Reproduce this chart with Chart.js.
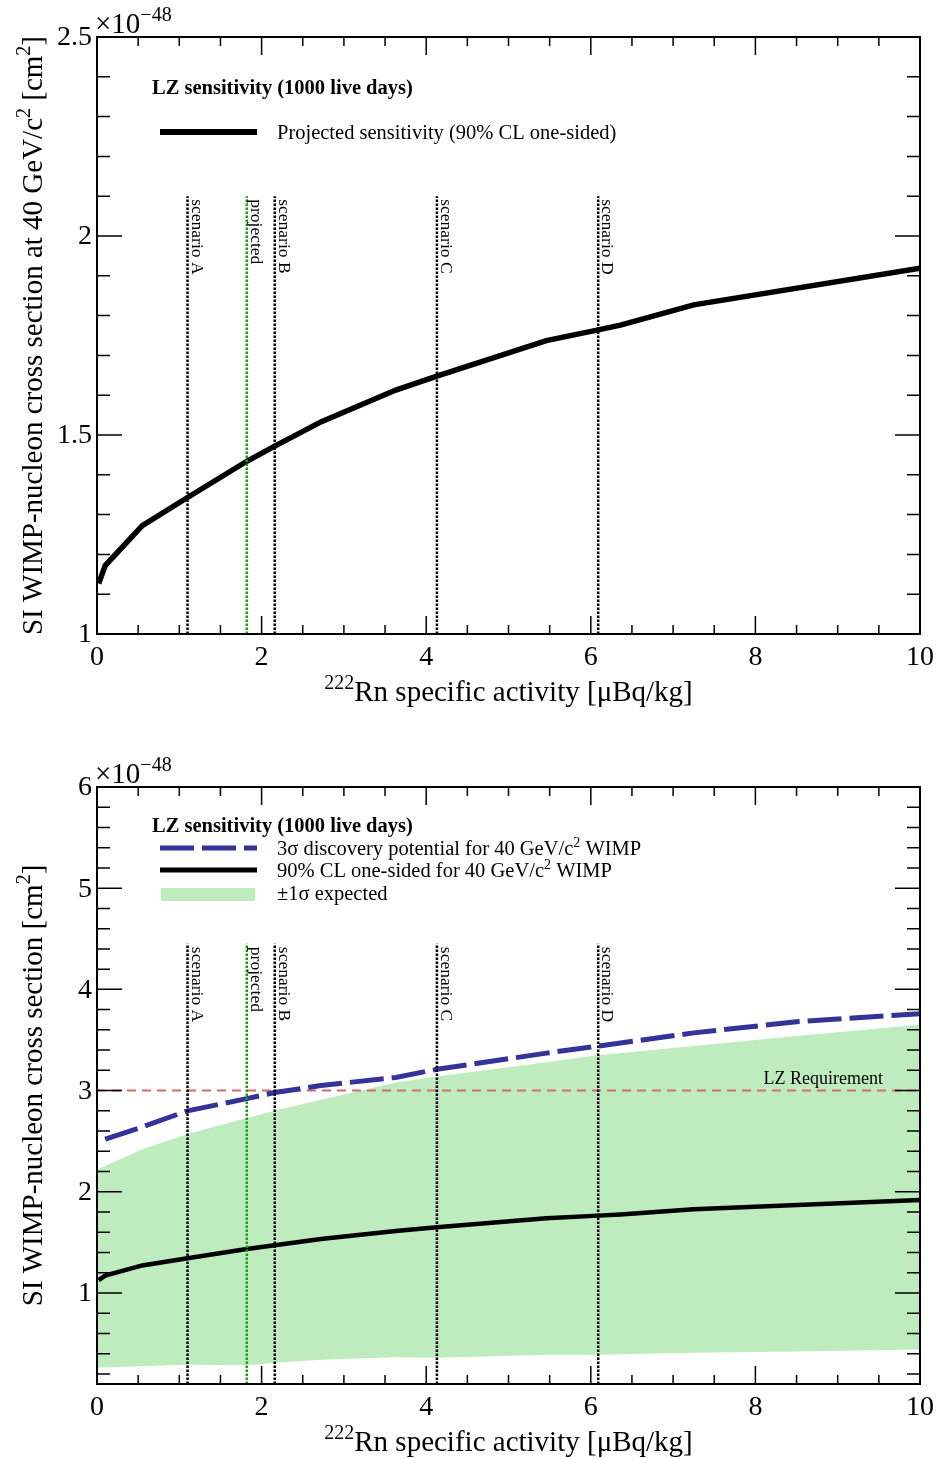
<!DOCTYPE html>
<html>
<head>
<meta charset="utf-8">
<title>LZ sensitivity vs Rn-222 activity</title>
<script src="https://cdn.jsdelivr.net/npm/chart.js@4.4.1/dist/chart.umd.min.js"></script>
<style>
  html, body { margin: 0; padding: 0; background: #fff; }
  #wrap { position: relative; width: 936px; height: 1459px; }
  canvas { position: absolute; left: 0; }
</style>
</head>
<body>
<div id="wrap">
  <canvas id="topChart" width="936" height="730" style="top:0"></canvas>
  <canvas id="bottomChart" width="936" height="729" style="top:730px"></canvas>
</div>
<script>
// Rn-222 specific activity [uBq/kg] and the 90% CL one-sided limit [x1e-48 cm2]
var rnActivity = [0.02, 0.1, 0.55, 1.1, 1.82, 2.16, 2.72, 3.63, 4.13, 5.46, 6.09, 6.36, 7.25, 10];
var limit90 = [1.127, 1.172, 1.272, 1.343, 1.434, 1.472, 1.533, 1.613, 1.648, 1.737, 1.764, 1.776, 1.827, 1.919];

// +-1 sigma expected band
var bandActivity = [0, 0.55, 1.1, 1.82, 2.16, 2.72, 3.63, 4.13, 5.46, 6.09, 7.25, 8.5, 10];
var bandUpper = [2.22, 2.42, 2.57, 2.73, 2.80, 2.91, 3.08, 3.14, 3.28, 3.35, 3.44, 3.54, 3.65];
var bandLower = [0.26, 0.275, 0.29, 0.285, 0.31, 0.34, 0.365, 0.36, 0.39, 0.39, 0.41, 0.42, 0.44];

// 3 sigma discovery potential
var discActivity = [0.1, 0.55, 1.1, 1.82, 2.16, 2.72, 3.63, 4.13, 5.46, 6.09, 7.25, 8.5, 10];
var discovery3sigma = [2.52, 2.64, 2.80, 2.92, 2.98, 3.05, 3.13, 3.21, 3.37, 3.44, 3.57, 3.68, 3.76];

// background scenarios
var scenarioNames = ['scenario A', 'projected', 'scenario B', 'scenario C', 'scenario D'];
var scenarioActivity = [1.1, 1.82, 2.16, 4.13, 6.09];
var scenarioColors = ['#000000', '#1a9e1a', '#000000', '#000000', '#000000'];

var lzRequirement = 3;

// axis tick labels
var xTickValues = [0, 2, 4, 6, 8, 10];
var topYTicks = [1, 1.5, 2, 2.5];
var bottomYTicks = [1, 2, 3, 4, 5, 6];

var SERIF = '"Liberation Serif", "Times New Roman", serif';

function pts(xs, ys) {
  return xs.map(function (x, i) { return { x: x, y: ys[i] }; });
}

function scenarioSets(yFrom, yTo) {
  return scenarioActivity.map(function (x, i) {
    return {
      label: scenarioNames[i],
      data: [{ x: x, y: yFrom }, { x: x, y: yTo }],
      borderColor: scenarioColors[i],
      borderWidth: 2.5,
      borderDash: [2.5, 1.5],
      fill: false,
      order: 1
    };
  });
}

// text with superscript pieces: parts = [[text, isSup], ...]
function richText(ctx, parts, x, y, align, size, supSize) {
  var big = size + 'px ' + SERIF;
  var small = (supSize || Math.round(size * 0.68)) + 'px ' + SERIF;
  var w = 0;
  parts.forEach(function (p) {
    ctx.font = p[1] ? small : big;
    w += ctx.measureText(p[0]).width;
  });
  var cx = align === 'center' ? x - w / 2 : (align === 'right' ? x - w : x);
  ctx.textAlign = 'left';
  ctx.textBaseline = 'alphabetic';
  parts.forEach(function (p) {
    ctx.font = p[1] ? small : big;
    ctx.fillText(p[0], cx, p[1] ? y - size * 0.4 : y);
    cx += ctx.measureText(p[0]).width;
  });
}

// ROOT-like frame: inward ticks on all sides, labels, titles, legend, annotations
function rootFrame(o) {
  return {
    id: 'rootFrame',
    afterDraw: function (chart) {
      var ctx = chart.ctx, a = chart.chartArea;
      var xs = chart.scales.x, ys = chart.scales.y;
      var i, v, p, len;
      ctx.save();
      ctx.strokeStyle = '#000';
      ctx.fillStyle = '#000';

      // ticks
      ctx.lineWidth = 1.5;
      ctx.beginPath();
      for (i = 0; i <= 20; i++) {
        p = xs.getPixelForValue(i * 0.5);
        len = i % 4 === 0 ? 18 : 9;
        ctx.moveTo(p, a.bottom); ctx.lineTo(p, a.bottom - len);
        ctx.moveTo(p, a.top); ctx.lineTo(p, a.top + len);
      }
      for (i = 0; ; i++) {
        v = o.yMinorFrom + i * o.yMinor;
        if (v > ys.max + 1e-9) break;
        p = ys.getPixelForValue(v);
        len = Math.abs(v / o.yMajor - Math.round(v / o.yMajor)) < 1e-6 ? 25 : 13;
        ctx.moveTo(a.left, p); ctx.lineTo(a.left + len, p);
        ctx.moveTo(a.right, p); ctx.lineTo(a.right - len, p);
      }
      ctx.stroke();

      // frame
      ctx.lineWidth = 2;
      ctx.strokeRect(a.left, a.top, a.right - a.left, a.bottom - a.top);

      // tick labels
      ctx.font = '28px ' + SERIF;
      ctx.textAlign = 'center';
      ctx.textBaseline = 'alphabetic';
      xTickValues.forEach(function (t) {
        ctx.fillText(String(t), xs.getPixelForValue(t), a.bottom + 31);
      });
      ctx.textAlign = 'right';
      ctx.textBaseline = 'middle';
      o.yTicks.forEach(function (t) {
        ctx.fillText(String(t), a.left - 5, ys.getPixelForValue(t) + 1);
      });

      // exponent
      richText(ctx, [['\u00d710', false], ['\u221248', true]], a.left - 2, a.top - 4, 'left', 29, 20);

      // axis titles
      richText(ctx, [['222', true], ['Rn specific activity [\u03bcBq/kg]', false]],
        (a.left + a.right) / 2, a.bottom + 67, 'center', 29, 20);
      ctx.save();
      ctx.translate(42, (a.top + a.bottom) / 2);
      ctx.rotate(-Math.PI / 2);
      richText(ctx, o.yTitle, 0, 0, 'center', 29, 20);
      ctx.restore();

      // scenario labels, reading downwards along each line
      ctx.font = '17.5px ' + SERIF;
      scenarioActivity.forEach(function (x, k) {
        ctx.save();
        ctx.translate(xs.getPixelForValue(x) + 4, ys.getPixelForValue(o.scenarioTop) + 3);
        ctx.rotate(Math.PI / 2);
        ctx.textAlign = 'left';
        ctx.textBaseline = 'alphabetic';
        ctx.fillText(scenarioNames[k], 0, 0);
        ctx.restore();
      });

      if (o.requirementLabel) {
        ctx.font = '18px ' + SERIF;
        ctx.textAlign = 'right';
        ctx.textBaseline = 'alphabetic';
        ctx.fillText('LZ Requirement', a.right - 37, ys.getPixelForValue(lzRequirement) - 7);
      }

      // legend
      ctx.font = 'bold 20.5px ' + SERIF;
      ctx.textAlign = 'left';
      ctx.textBaseline = 'alphabetic';
      ctx.fillText('LZ sensitivity (1000 live days)', 152, o.legendTitleY);
      o.legend.forEach(function (e) {
        if (e.type === 'box') {
          ctx.fillStyle = e.color;
          ctx.fillRect(161, e.y - 5, 94, 13);
          ctx.fillStyle = '#000';
        } else {
          ctx.save();
          ctx.strokeStyle = e.color;
          ctx.lineWidth = e.width;
          ctx.setLineDash(e.dash || []);
          ctx.beginPath();
          ctx.moveTo(160, e.y); ctx.lineTo(257, e.y);
          ctx.stroke();
          ctx.restore();
        }
        richText(ctx, e.text, 277, e.y + 7, 'left', 20.5, 14);
      });

      ctx.restore();
    }
  };
}

function baseOptions(yMin, yMax, padTop, padBottom) {
  return {
    responsive: false,
    animation: false,
    layout: { padding: { left: 97, right: 16, top: padTop, bottom: padBottom } },
    elements: { point: { radius: 0 }, line: { tension: 0 } },
    plugins: { legend: { display: false }, tooltip: { enabled: false } },
    scales: {
      x: { type: 'linear', min: 0, max: 10, display: false },
      y: { type: 'linear', min: yMin, max: yMax, display: false }
    }
  };
}

// upper panel: projected sensitivity
var topSets = scenarioSets(1, 2.1);
topSets.push({
  label: 'Projected sensitivity (90% CL one-sided)',
  data: pts(rnActivity, limit90),
  borderColor: '#000', borderWidth: 5.5, fill: false, order: 2
});

new Chart(document.getElementById('topChart'), {
  type: 'line',
  data: { datasets: topSets },
  options: baseOptions(1, 2.5, 37, 96),
  plugins: [rootFrame({
    yTicks: topYTicks, yMinorFrom: 1, yMinor: 0.1, yMajor: 0.5,
    yTitle: [['SI WIMP-nucleon cross section at 40 GeV/c', false], ['2', true], [' [cm', false], ['2', true], [']', false]],
    scenarioTop: 2.1,
    legendTitleY: 94,
    legend: [
      { type: 'line', color: '#000', width: 6, y: 132, text: [['Projected sensitivity (90% CL one-sided)', false]] }
    ]
  })]
});

// lower panel: discovery potential, limit and band
var bandGreen = 'rgb(190, 236, 190)';
var bottomSets = scenarioSets(0.1, 4.45);
bottomSets.push({
  label: '90% CL one-sided',
  data: pts(rnActivity, limit90),
  borderColor: '#000', borderWidth: 4.5, fill: false, order: 2
});
bottomSets.push({
  label: '3 sigma discovery',
  data: pts(discActivity, discovery3sigma),
  borderColor: '#333399', borderWidth: 5, borderDash: [34, 8], fill: false, order: 3
});
bottomSets.push({
  label: 'LZ Requirement',
  data: [{ x: 0, y: lzRequirement }, { x: 10, y: lzRequirement }],
  borderColor: '#d96a6a', borderWidth: 2, borderDash: [9, 6], fill: false, order: 4
});
var lowerIndex = bottomSets.length;
bottomSets.push({
  label: 'band lower',
  data: pts(bandActivity, bandLower),
  borderColor: 'rgba(0,0,0,0)', borderWidth: 0, fill: false, order: 6
});
bottomSets.push({
  label: 'band upper',
  data: pts(bandActivity, bandUpper),
  borderColor: 'rgba(0,0,0,0)', borderWidth: 0,
  backgroundColor: bandGreen,
  fill: { target: lowerIndex }, order: 5
});

new Chart(document.getElementById('bottomChart'), {
  type: 'line',
  data: { datasets: bottomSets },
  options: baseOptions(0.1, 6, 57, 75),
  plugins: [rootFrame({
    yTicks: bottomYTicks, yMinorFrom: 0.2, yMinor: 0.2, yMajor: 1,
    yTitle: [['SI WIMP-nucleon cross section [cm', false], ['2', true], [']', false]],
    scenarioTop: 4.45,
    requirementLabel: true,
    legendTitleY: 102,
    legend: [
      { type: 'line', color: '#333399', width: 5, dash: [34, 8], y: 118,
        text: [['3\u03c3 discovery potential for 40 GeV/c', false], ['2', true], [' WIMP', false]] },
      { type: 'line', color: '#000', width: 5, y: 140,
        text: [['90% CL one-sided for 40 GeV/c', false], ['2', true], [' WIMP', false]] },
      { type: 'box', color: bandGreen, y: 163,
        text: [['\u00b11\u03c3 expected', false]] }
    ]
  })]
});
</script>
</body>
</html>
